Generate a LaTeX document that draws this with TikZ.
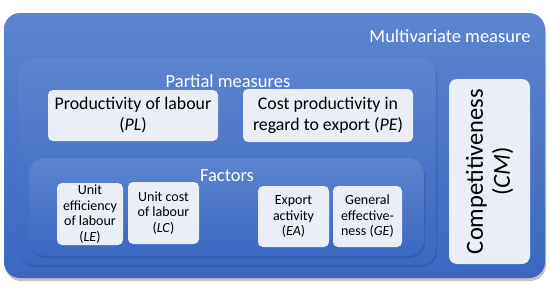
\documentclass[tikz,border=0pt]{standalone}
\usepackage{fontspec}
\setmainfont{Carlito}
\usetikzlibrary{shadows}

\definecolor{blueTop}{HTML}{5C84CF}
\definecolor{blueBot}{HTML}{3B67C1}
\definecolor{tileFill}{HTML}{E9EEF7}

\begin{document}
\begin{tikzpicture}[
    x=1pt, y=-1pt,
    panel/.style={rounded corners=16pt, top color=blueTop, bottom color=blueBot, draw=none, inner sep=0pt},
    tile/.style={rounded corners=5pt, fill=tileFill, draw=none, align=center, inner sep=0pt},
    title/.style={text=white, font=\fontsize{18.5}{21}\selectfont}
]
\useasboundingbox (0,0) rectangle (550,292);

% 1. Outer panel: multivariate measure
\node[panel, minimum width=541pt, minimum height=265pt,
      drop shadow={shadow xshift=1pt, shadow yshift=-3pt, opacity=0.35, fill=black!70}] (multi) at (274.5,145.5) {};
\node[title, anchor=east] (multiTitle) at (534,36) {Multivariate measure};

% 2. Partial measures panel
\node[panel, minimum width=418pt, minimum height=207pt,
      drop shadow={shadow xshift=1pt, shadow yshift=-2pt, opacity=0.3, fill=blueBot!60!black}] (partial) at (227,161.5) {};
\node[title] (partialTitle) at (228,81) {Partial measures};

\node[tile, minimum width=170pt, minimum height=51pt, font=\fontsize{17.8}{21}\selectfont] (pl) at (133,115.5)
    {Productivity of labour\\(\textit{PL})};
\node[tile, minimum width=170pt, minimum height=53pt, font=\fontsize{17.8}{21}\selectfont] (pe) at (328,115.5)
    {Cost productivity in\\regard to export (\textit{PE})};

% 3. Factors panel
\node[panel, minimum width=395pt, minimum height=98pt,
      drop shadow={shadow xshift=1pt, shadow yshift=-2pt, opacity=0.3, fill=blueBot!60!black}] (factors) at (226.5,207) {};
\node[title] (factorsTitle) at (227,176) {Factors};

\node[tile, minimum width=66pt, minimum height=62pt, font=\fontsize{14}{15.6}\selectfont] (le) at (90,214)
    {Unit\\efficiency\\of labour\\(\textit{LE})};
\node[tile, minimum width=71pt, minimum height=62pt, font=\fontsize{14}{15.6}\selectfont] (lc) at (163.5,213)
    {Unit cost\\of labour\\(\textit{LC})};
\node[tile, minimum width=71pt, minimum height=61pt, font=\fontsize{14}{15.6}\selectfont] (ea) at (293.5,216.5)
    {Export\\activity\\(\textit{EA})};
\node[tile, minimum width=69pt, minimum height=61pt, font=\fontsize{14}{15.6}\selectfont] (ge) at (367.5,216.5)
    {General\\effective-\\ness (\textit{GE})};

% 4. Competitiveness (vertical)
\node[tile, rounded corners=8pt, rotate=90, minimum width=185pt, minimum height=81pt,
      font=\fontsize{24.5}{27}\selectfont] (cm) at (489.5,171.5)
    {Competitiveness\\(\textit{CM})};

\end{tikzpicture}
\end{document}
